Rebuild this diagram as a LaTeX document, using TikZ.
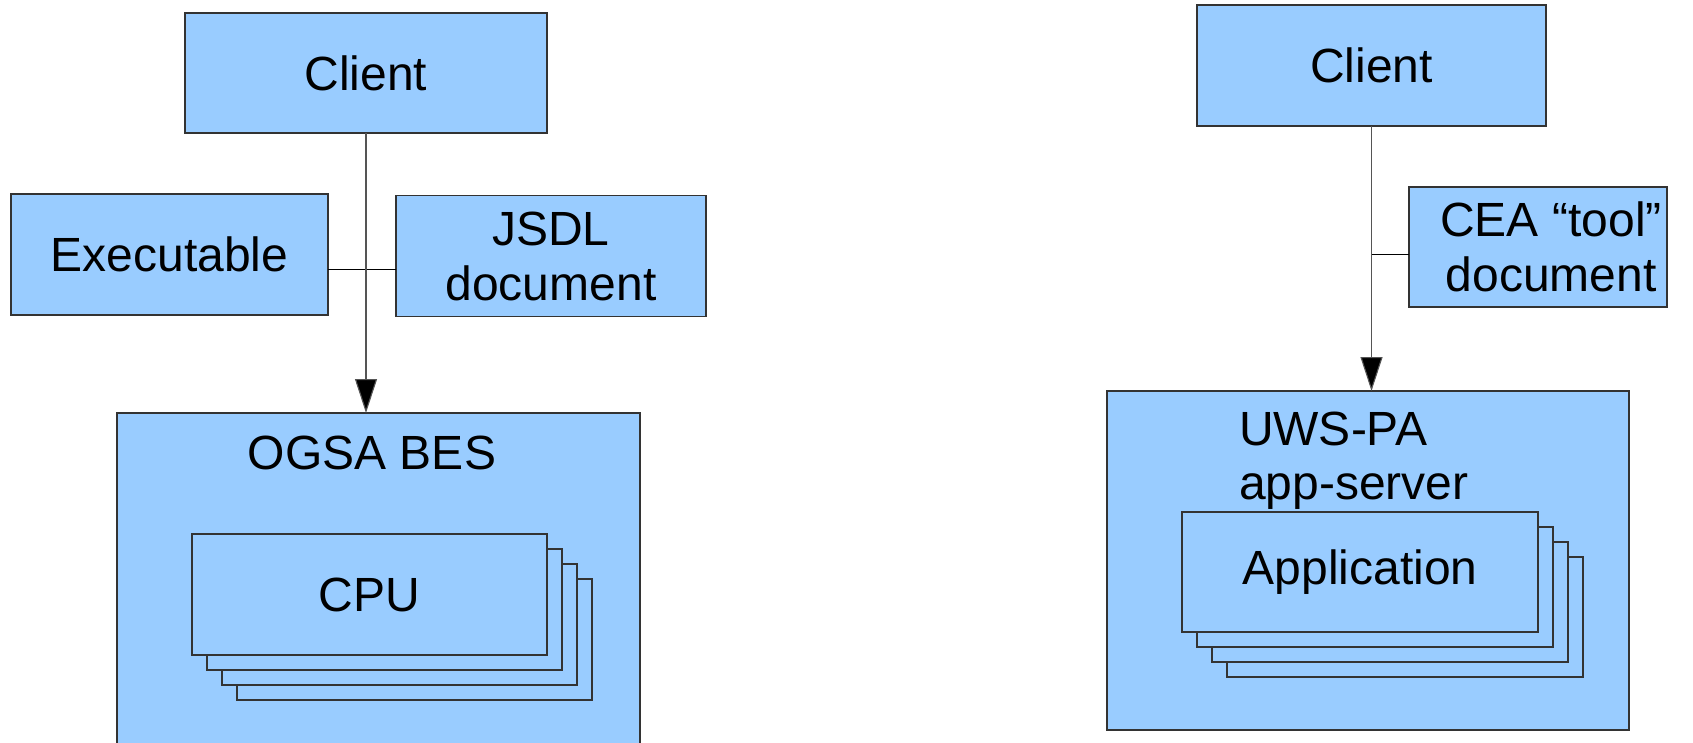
\documentclass[tikz,border=0pt]{standalone}
\usepackage{fontspec}
\setmainfont{Liberation Sans}
\usetikzlibrary{arrows.meta}
\definecolor{boxfill}{HTML}{99CCFF}
\definecolor{boxline}{HTML}{333333}
\definecolor{linegray}{HTML}{555555}
\tikzset{
  blk/.style={draw=boxline, fill=boxfill, line width=1.2pt, inner sep=0pt, outer sep=0pt,
    font=\fontsize{48}{55}\selectfont, align=center},
  lbl/.style={inner sep=0pt, outer sep=0pt, font=\fontsize{48}{55}\selectfont},
  conn/.style={draw=black, line width=1pt},
  flow/.style={draw=linegray, line width=1.1pt, -{Triangle[length=34pt,width=22pt,fill=black]}},
}
\begin{document}
\begin{tikzpicture}[x=1pt,y=-1pt]
\clip (0,0) rectangle (1693,742);
\fill[white] (0,0) rectangle (1693,742);
% ---------- left ----------
\node[blk, minimum width=523pt, minimum height=347pt] (ogsa) at (378.5,586.5) {};
\node[lbl, anchor=base] (ogsat) at (372,469) {OGSA BES};
\node[blk, minimum width=355pt, minimum height=121pt] (cpu3) at (414.5,639.5) {};
\node[blk, minimum width=355pt, minimum height=121pt] (cpu2) at (399.5,624.5) {};
\node[blk, minimum width=355pt, minimum height=121pt] (cpu1) at (384.5,609.5) {};
\node[blk, minimum width=355pt, minimum height=121pt] (cpu) at (369.5,594.5) {CPU};
\node[blk, minimum width=362pt, minimum height=120pt] (client1) at (366,73) {Client};
\node[blk, minimum width=317pt, minimum height=121pt] (exe) at (169.5,254.5) {Executable};
\node[blk, minimum width=310pt, minimum height=121pt] (jsdl) at (551,256) {JSDL\\document};
\coordinate (jl) at (396,269);
\coordinate (el) at (328,269);
\draw[conn] (el) -- (jl);
\draw[flow] (client1.south) -- (client1.south |- ogsa.north);
% ---------- right ----------
\node[blk, minimum width=522pt, minimum height=339pt] (uws) at (1368,560.5) {};
\node[lbl, anchor=base west, align=left] (uwst) at (1239,445) {UWS-PA};
\node[lbl, anchor=base west, align=left] (uwst2) at (1239,499) {app-server};
\node[blk, minimum width=356pt, minimum height=120pt] (app3) at (1405,617) {};
\node[blk, minimum width=356pt, minimum height=120pt] (app2) at (1390,602) {};
\node[blk, minimum width=356pt, minimum height=120pt] (app1) at (1375,587) {};
\node[blk, minimum width=356pt, minimum height=120pt] (app) at (1360,572) {Application};
\node[blk, minimum width=349pt, minimum height=121pt] (client2) at (1371.5,65.5) {Client};
\node[blk, minimum width=258pt, minimum height=120pt] (cea) at (1538,247) {};
\node[lbl, align=center] (ceat) at (1551,247) {CEA “tool”\\document};
\coordinate (cj) at (1372,254);
\draw[conn] (cj) -- (cj -| cea.west);
\draw[flow] (client2.south) -- (client2.south |- uws.north);
\end{tikzpicture}
\end{document}
